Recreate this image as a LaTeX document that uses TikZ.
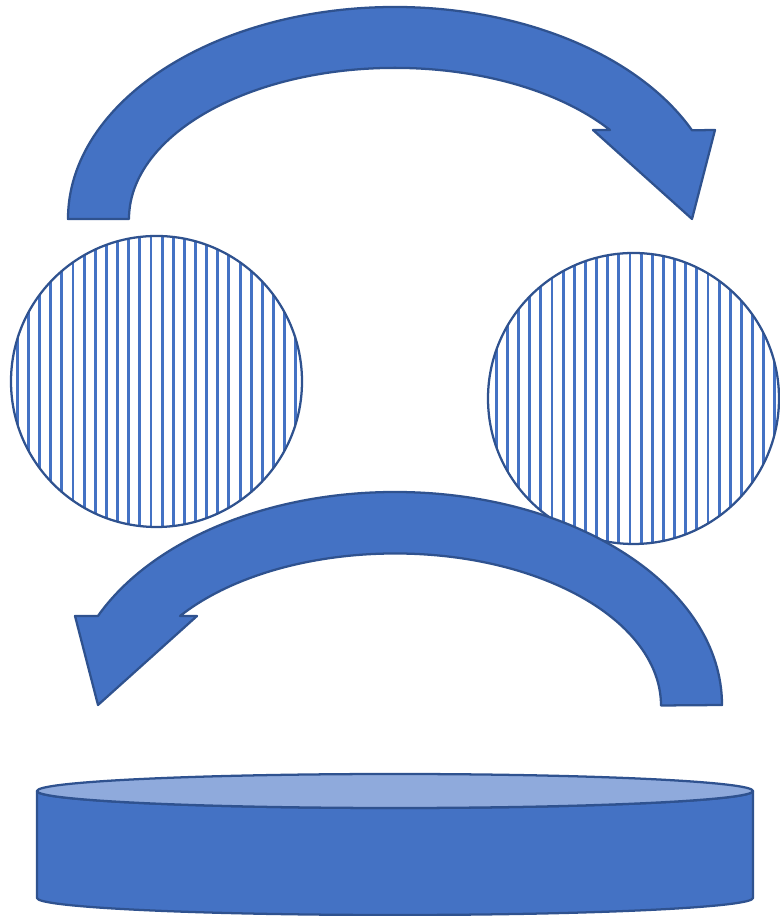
\documentclass[tikz,border=0pt]{standalone}
\usepackage{xcolor}
\definecolor{fillblue}{HTML}{4472C4}
\definecolor{edgeblue}{HTML}{2F528F}
\definecolor{lightblue}{HTML}{8FAADC}
\begin{document}
\begin{tikzpicture}[x=0.75pt,y=0.75pt,
  shapeline/.style={draw=edgeblue,line width=1.7pt,line join=round},
  solidshape/.style={shapeline,fill=fillblue},
  stripe/.style={draw=fillblue,line width=2.2pt}]
\useasboundingbox (0,0) rectangle (780,916);
% striped circles
\foreach \cx/\cy in {156.5/534.5, 633.5/517.5}{
  \begin{scope}
    \clip (\cx,\cy) circle[radius=109.125pt];
    \foreach \k in {0,...,70}{
      \draw[stripe] ({17.3+11.14*\k},0) -- ({17.3+11.14*\k},916);
    }
  \end{scope}
  \draw[shapeline] (\cx,\cy) circle[radius=109.125pt];
}
% top curved arrow
\draw[solidshape] (68,697)
  arc[start angle=180,end angle=24.73,x radius=245.25pt,y radius=159pt]
  -- (715,786) -- (692,697) -- (593,786) -- (610,786)
  arc[start angle=36.07,end angle=180,x radius=199.5pt,y radius=113.25pt]
  -- cycle;
% bottom curved arrow
\draw[solidshape] (722,211)
  arc[start angle=0,end angle=155.27,x radius=245.25pt,y radius=159.75pt]
  -- (75,300) -- (98,211) -- (197,300) -- (180,300)
  arc[start angle=143.93,end angle=0,x radius=199.5pt,y radius=114pt]
  -- cycle;
% cylinder
\draw[solidshape] (37,125) -- (37,18)
  arc[start angle=180,end angle=360,x radius=268.5pt,y radius=12.75pt]
  -- (753,125)
  arc[start angle=360,end angle=180,x radius=268.5pt,y radius=12.75pt]
  -- cycle;
\draw[shapeline,fill=lightblue] (395,125) ellipse[x radius=268.5pt,y radius=12.75pt];
\end{tikzpicture}
\end{document}
